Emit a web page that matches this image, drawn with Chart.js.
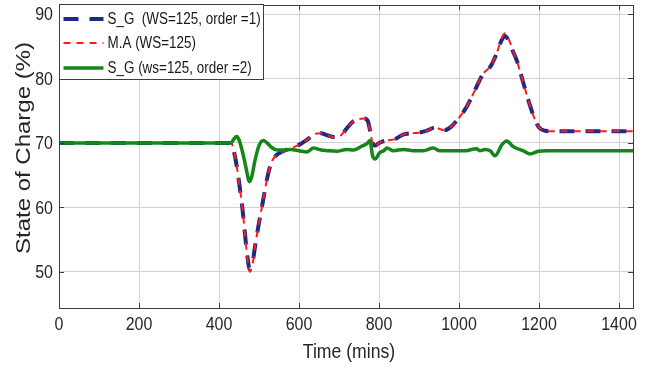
<!DOCTYPE html>
<html>
<head>
<meta charset="utf-8">
<script src="https://cdn.jsdelivr.net/npm/chart.js@4.4.1/dist/chart.umd.min.js"></script>
<style>
  html, body { margin: 0; padding: 0; background: #fff; }
  #wrap { width: 651px; height: 371px; }
</style>
</head>
<body>
<div id="wrap"><canvas id="soc"></canvas></div>
<script>
// time stamps (mins) shared by the order-1 filter and the moving average
const sgTimes = [0, 200, 400, 430, 440, 450, 460, 470, 477, 485, 490, 500, 510, 520, 530, 540, 560, 580, 600,
  620, 640, 655, 670, 690, 705, 720, 735, 750, 762, 772, 778, 784, 790, 800, 820, 840, 860, 880, 900, 920,
  940, 955, 965, 980, 1000, 1020, 1040, 1060, 1080, 1095, 1107, 1115, 1125, 1135, 1145, 1160, 1175, 1190,
  1200, 1215, 1235, 1300, 1440];
const sgOrder1 = [70, 70, 70, 70, 67.9, 64.0, 59.0, 52.9, 50.4, 51.8, 53.9, 57.6, 61.0, 64.4, 66.8, 67.9, 68.7, 69.2, 69.7,
  70.5, 71.4, 71.5, 71.2, 70.9, 71.2, 72.3, 73.3, 73.7, 73.8, 73.4, 71.8, 70.0, 69.6, 70.0, 70.4, 70.6, 71.3, 71.5, 71.6, 71.9,
  72.4, 72.1, 72.0, 72.5, 73.9, 75.7, 78.2, 80.7, 82.0, 84.0, 86.0, 86.6, 85.7, 84.2, 82.7, 79.5, 76.3, 73.6,
  72.4, 71.9, 71.8, 71.8, 71.8];
const maWs125 = [70, 70, 70, 70, 67.9, 64.0, 59.0, 52.7, 50.0, 51.5, 53.9, 57.6, 61.0, 64.4, 66.8, 67.9, 68.7, 69.2, 69.7,
  70.5, 71.4, 71.5, 71.2, 70.9, 71.2, 72.3, 73.3, 73.7, 73.8, 73.4, 71.8, 69.9, 69.4, 70.0, 70.4, 70.6, 71.3, 71.5, 71.6, 71.9,
  72.4, 72.1, 72.0, 72.5, 73.9, 75.7, 78.2, 80.7, 82.0, 84.0, 86.3, 87.0, 86.0, 84.3, 82.7, 79.5, 76.3, 73.6,
  72.4, 71.9, 71.8, 71.8, 71.8];

// order-2 filter has its own time stamps
const sg2Times = [0, 200, 400, 430, 437, 444, 450, 460, 468, 476, 482, 490, 500, 511, 520, 532, 545, 560, 580, 600,
  620, 636, 655, 670, 694, 719, 736, 757, 770, 777, 784, 790, 802, 812, 820, 836, 861, 886, 911, 936, 952, 986,
  1019, 1031, 1044, 1052, 1065, 1078, 1090, 1107, 1119, 1136, 1160, 1177, 1198, 1219, 1300, 1440];
const sgOrder2 = [70, 70, 70, 70, 70.6, 71.0, 70.5, 68.3, 66.0, 64.0, 64.8, 67.3, 69.6, 70.4, 70.0, 69.3, 68.9, 68.9, 69.0, 68.8,
  68.6, 69.2, 68.9, 68.8, 68.7, 69.0, 68.9, 69.5, 69.9, 70.4, 68.0, 67.5, 68.5, 68.8, 69.2, 68.8, 69.0, 68.8, 68.8, 69.2, 68.8, 68.8,
  68.8, 69.0, 69.1, 68.8, 69.0, 68.8, 68.0, 69.7, 70.3, 69.4, 68.8, 68.3, 68.7, 68.8, 68.8, 68.8];

const xTicks = [0, 200, 400, 600, 800, 1000, 1200, 1400];
const yTicks = [50, 60, 70, 80, 90];
const xTitle = "Time (mins)";
const yTitle = "State of Charge (%)";

const FONT = "'Liberation Sans', Arial, sans-serif";
const SQUASH = 0.84; // labels are drawn a bit condensed
const frameColor = "#3c3c3c";
const textColor = "#262626";

function toPoints(times, vals) {
  return times.map(function (t, i) { return { x: t, y: vals[i] }; });
}

function narrowText(ctx, text, x, y, align) {
  ctx.save();
  ctx.translate(x, y);
  ctx.scale(SQUASH, 1);
  ctx.textAlign = align;
  ctx.fillText(text, 0, 0);
  ctx.restore();
}

// box around the axes, matlab-style inner ticks, labels and the legend in the corner
const axesBox = {
  id: "axesBox",
  afterDatasetsDraw(chart) {
    const ctx = chart.ctx;
    const a = chart.chartArea;
    const xs = chart.scales.x, ys = chart.scales.y;
    ctx.save();
    ctx.strokeStyle = frameColor;
    ctx.lineWidth = 1;
    ctx.beginPath();
    xTicks.forEach(function (v) {
      const px = Math.round(xs.getPixelForValue(v)) + 0.5;
      ctx.moveTo(px, a.bottom); ctx.lineTo(px, a.bottom - 5);
      ctx.moveTo(px, a.top); ctx.lineTo(px, a.top + 5);
    });
    yTicks.forEach(function (v) {
      const py = Math.round(ys.getPixelForValue(v)) + 0.5;
      ctx.moveTo(a.left, py); ctx.lineTo(a.left + 5, py);
      ctx.moveTo(a.right, py); ctx.lineTo(a.right - 5, py);
    });
    ctx.stroke();
    ctx.strokeRect(Math.round(a.left) + 0.5, Math.round(a.top) + 0.5,
      Math.round(a.right - a.left), Math.round(a.bottom - a.top));

    // tick labels
    ctx.fillStyle = textColor;
    ctx.font = "19px " + FONT;
    ctx.textBaseline = "middle";
    xTicks.forEach(function (v) {
      narrowText(ctx, String(v), xs.getPixelForValue(v), a.bottom + 17, "center");
    });
    yTicks.forEach(function (v) {
      narrowText(ctx, String(v), a.left - 6, ys.getPixelForValue(v) + 1, "right");
    });

    // axis titles
    ctx.font = "21px " + FONT;
    narrowText(ctx, xTitle, (a.left + a.right) / 2 + 3, 352, "center");
    ctx.save();
    ctx.translate(24, 148);
    ctx.rotate(-Math.PI / 2);
    ctx.scale(1, SQUASH);
    ctx.font = "24px " + FONT;
    ctx.textAlign = "center";
    ctx.fillText(yTitle, 0, 0);
    ctx.restore();

    // legend
    const lx = Math.round(a.left) + 0.5, ly = 4.5, lw = 204, lh = 75;
    ctx.fillStyle = "#fff";
    ctx.fillRect(lx, ly, lw, lh);
    ctx.strokeRect(lx, ly, lw, lh);
    const rows = [19, 43, 68];
    chart.data.datasets.forEach(function (ds, i) {
      const y = rows[i];
      ctx.save();
      ctx.strokeStyle = ds.borderColor;
      ctx.lineWidth = ds.borderWidth;
      ctx.setLineDash(ds.borderDash || []);
      ctx.beginPath();
      ctx.moveTo(lx + 4, y);
      ctx.lineTo(lx + 44, y);
      ctx.stroke();
      ctx.restore();
      ctx.fillStyle = "#1a1a1a";
      ctx.font = "16px " + FONT;
      ctx.textBaseline = "middle";
      narrowText(ctx, ds.label, lx + 48, y + 1, "left");
    });
    ctx.restore();
  }
};

new Chart(document.getElementById("soc"), {
  type: "line",
  data: {
    datasets: [
      {
        label: "S_G  (WS=125, order =1)",
        data: toPoints(sgTimes, sgOrder1),
        borderColor: "#1c2a8a",
        borderWidth: 4,
        borderDash: [15, 11],
        order: 3
      },
      {
        label: "M.A (WS=125)",
        data: toPoints(sgTimes, maWs125),
        borderColor: "#ff1a1a",
        borderWidth: 2,
        borderDash: [7, 6],
        order: 2
      },
      {
        label: "S_G (ws=125, order =2)",
        data: toPoints(sg2Times, sgOrder2),
        borderColor: "#15861a",
        borderWidth: 3.5,
        order: 1
      }
    ]
  },
  options: {
    responsive: true,
    maintainAspectRatio: false,
    animation: false,
    layout: { padding: { left: 0, right: 18, top: 5, bottom: 0 } },
    elements: {
      point: { radius: 0 },
      line: { cubicInterpolationMode: "monotone", fill: false, borderCapStyle: "butt" }
    },
    plugins: {
      legend: { display: false },
      tooltip: { enabled: false }
    },
    scales: {
      x: {
        type: "linear",
        min: 0,
        max: 1435,
        afterBuildTicks: function (s) { s.ticks = xTicks.map(function (v) { return { value: v }; }); },
        afterFit: function (s) { s.height = 63; },
        grid: { color: "#d2d2d2", drawTicks: false },
        border: { display: false },
        ticks: { display: false },
        title: { display: false }
      },
      y: {
        min: 44.4,
        max: 91.4,
        afterBuildTicks: function (s) { s.ticks = yTicks.map(function (v) { return { value: v }; }); },
        afterFit: function (s) { s.width = 59; },
        grid: { color: "#d2d2d2", drawTicks: false },
        border: { display: false },
        ticks: { display: false },
        title: { display: false }
      }
    }
  },
  plugins: [axesBox]
});
</script>
</body>
</html>
